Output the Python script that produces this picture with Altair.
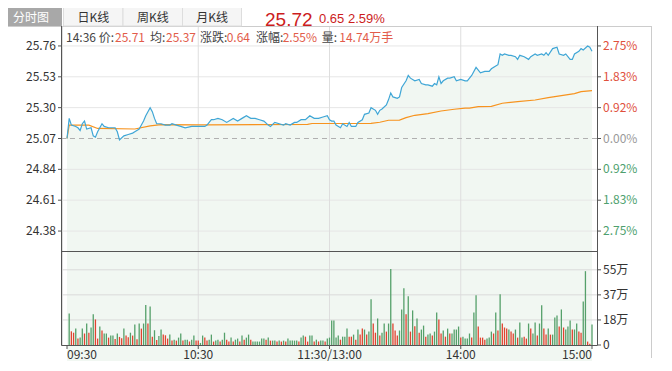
import altair as alt
import pandas as pd

# ---------------- data ----------------
prev_close = 25.07

price_minutes = [0, 1, 2, 4, 5, 6, 7, 8, 9, 11, 12, 13, 14, 16, 17, 19, 22, 23, 24, 26, 28, 30, 31, 33, 34, 35, 36, 37, 38, 39,
                 40, 41, 43, 45, 47, 48, 50, 52, 54, 57, 60, 63, 64, 66, 67, 69, 71, 73, 75, 76, 78, 80, 82, 84, 86, 88, 90, 92, 93, 95,
                 97, 99, 100, 102, 104, 105, 107, 109, 111, 113, 115, 117, 119, 120, 121, 122, 123, 125, 126, 128, 129, 130, 132, 133, 135, 136, 138, 139, 141, 142,
                 143, 144, 146, 147, 148, 149, 151, 152, 153, 155, 156, 157, 159, 161, 162, 164, 165, 167, 168, 169, 170, 171, 172, 174, 175, 177, 178, 180, 182, 183,
                 185, 187, 189, 191, 193, 194, 196, 197, 198, 199, 200, 202, 203, 205, 206, 207, 209, 211, 212, 214, 215, 217, 218, 219, 220, 222, 224, 225, 227, 228,
                 230, 231, 232, 234, 235, 236, 238, 239, 240]
price_values = [25.07, 25.22, 25.17, 25.16, 25.15, 25.13, 25.18, 25.20, 25.14, 25.15, 25.09, 25.08, 25.12, 25.18, 25.16, 25.15, 25.15, 25.12, 25.06, 25.09, 25.10, 25.11, 25.12, 25.14, 25.17, 25.20, 25.24, 25.27, 25.30, 25.27,
                25.22, 25.18, 25.18, 25.17, 25.17, 25.18, 25.17, 25.16, 25.15, 25.16, 25.16, 25.16, 25.17, 25.21, 25.21, 25.22, 25.21, 25.19, 25.21, 25.22, 25.20, 25.22, 25.24, 25.22, 25.22, 25.21, 25.20, 25.17, 25.16, 25.19,
                25.18, 25.17, 25.18, 25.17, 25.19, 25.19, 25.21, 25.21, 25.24, 25.22, 25.22, 25.23, 25.24, 25.21, 25.20, 25.20, 25.17, 25.15, 25.18, 25.16, 25.19, 25.16, 25.16, 25.19, 25.21, 25.25, 25.26, 25.30, 25.28, 25.25,
                25.28, 25.29, 25.32, 25.36, 25.41, 25.38, 25.37, 25.38, 25.45, 25.50, 25.54, 25.52, 25.50, 25.51, 25.48, 25.47, 25.47, 25.46, 25.48, 25.47, 25.53, 25.48, 25.50, 25.52, 25.52, 25.53, 25.50, 25.51, 25.50, 25.50,
                25.54, 25.60, 25.56, 25.57, 25.57, 25.59, 25.61, 25.62, 25.70, 25.69, 25.70, 25.69, 25.69, 25.68, 25.66, 25.69, 25.68, 25.66, 25.68, 25.70, 25.69, 25.70, 25.69, 25.71, 25.69, 25.74, 25.75, 25.70, 25.69, 25.70,
                25.66, 25.66, 25.70, 25.72, 25.74, 25.73, 25.76, 25.75, 25.72]

avg_minutes = [0, 1, 10, 14, 31, 38, 43, 60, 64, 110, 112, 139, 143, 147, 152, 155, 159, 165, 171, 177, 182, 184, 188, 194, 199, 206, 214, 220, 226, 232, 235, 240]
avg_values = [25.07, 25.17, 25.17, 25.145, 25.141, 25.164, 25.174, 25.172, 25.172, 25.175, 25.182, 25.183, 25.191, 25.206, 25.207, 25.226, 25.243, 25.256, 25.275, 25.288, 25.296, 25.297, 25.308, 25.309, 25.333, 25.345, 25.357, 25.375, 25.39, 25.405, 25.42, 25.427]

# volume per minute (万), minutes 1..240
volumes = [23, 10, 9, 12, 4.7, 5.4, 12, 8.4, 15.7, 9,
           12.8, 22.4, 18.7, 4.7, 13.5, 10.6, 8.4, 8.4, 5.4, 6.9,
           6.9, 4.4, 8.4, 5.9, 4.9, 12, 6.9, 5.6, 9, 6.9,
           15, 4.2, 15.7, 12, 15.7, 29.2, 15.7, 28.2, 6.1, 10.8,
           3.7, 6.6, 11.3, 7.6, 7.1, 4.7, 7.6, 3.2, 3.9, 3.2,
           5.4, 8.4, 3.2, 3.9, 3.9, 2.5, 3.9, 6.9, 3.2, 3.2,
           1.5, 6.9, 5.4, 3.2, 3.9, 7.6, 2.5, 3.2, 3.9, 2.5,
           3.9, 9, 3.9, 2.5, 5.4, 2.5, 3.9, 4.7, 2.5, 6.9,
           3.9, 5.4, 7.6, 3.9, 2.5, 2.5, 2.5, 2.5, 4.7, 4.7,
           3.9, 5.4, 3.2, 3.2, 3.2, 2.5, 3.2, 2.5, 3.2, 2.5,
           4.7, 3.2, 3.2, 3.2, 3.2, 2.5, 5.4, 6.9, 6.1, 2.5,
           6.9, 6.9, 2.5, 3.9, 2.5, 3.2, 3.2, 2.5, 4.7, 5.4,
           17.9, 17.9,
           5.4, 6.9, 3.9, 6.1, 6.1, 12, 6.1, 6.1, 7.6, 3.9,
           11.3, 7.6, 12, 11.3, 7.6, 9.8, 33.4, 15.7, 9, 19.4,
           6.9, 9, 15.7, 9.8, 15.7, 55.5, 15.7, 10.6, 6.9, 10.6,
           26, 41.5, 22.4, 35.6, 9.8, 25.3, 13.8, 19.4, 9, 11.3,
           14.2, 6.1, 7.6, 8.4, 6.9, 9.8, 23.8, 18.7, 8.4, 10.6,
           6.1, 12, 8.4, 8.4, 11.3, 11.3, 13.5, 5.4, 6.1, 4.7,
           4.7, 8.4, 5.4, 23.8, 36.3, 13.5, 5.4, 5.4, 3.9, 4.7,
           5.4, 9.8, 8.4, 23.8, 10.6, 37.1, 15.7, 12.8, 12, 11.3,
           9.8, 8.4, 11.3, 5.4, 16.5, 5.4, 6.1, 4.7, 15.7, 12,
           8.4, 16.5, 6.9, 15.7, 29, 12, 7.6, 12, 7.6, 7.6,
           20.1, 21.6, 13.5, 26, 12.8, 11.3, 13.5, 17.9, 11.3, 11.3,
           15.7, 9.8, 9, 31.9, 54, 2.5, 1, 15]
vol_color_rows = [
    "grrgrggrgr", "ggrrgrggrg", "grgrrgrrgr", "grgrggrgrg", "rggrrrgrgr", "ggrggrggrr",
    "ggrrggrggr", "ggrrgrggrg", "rggrgggggg", "rgrggrgrgr", "gggggrggrr", "ggrgrggrgg", "gg",
    "ggrgggrrgr", "grrgrggrrg", "rggrggrrrg", "ggrgrgrgrg", "grggrggrrg", "rgrggggrgg",
    "ggrggrrrrg", "ggrgrgrrrg", "rrgrggrrgr", "ggrggrrgrg", "ggrgrgggrg", "grrggrrg",
]
vol_colors = list("".join(vol_color_rows))

price_ticks = [25.76, 25.53, 25.30, 25.07, 24.84, 24.61, 24.38]
pct_labels = ["2.75%", "1.83%", "0.92%", "0.00%", "0.92%", "1.83%", "2.75%"]
pct_dirs = ["up", "up", "up", "flat", "down", "down", "down"]
vol_ticks = [0, 18.33, 36.67, 55]
vol_tick_labels = ["0", "18万", "37万", "55万"]
time_ticks = [0, 60, 120, 180, 240]
time_labels = ["09:30", "10:30", "11:30/13:00", "14:00", "15:00"]

tabs = ["分时图", "日K线", "周K线", "月K线"]
header_price = "25.72"
header_change = "0.65 2.59%"
info_parts = [("14:36 价:", "g"), ("25.71", "r"), ("均:", "g"), ("25.37", "r"), ("涨跌:", "g"), ("0.64", "r"),
              ("涨幅:", "g"), ("2.55%", "r"), ("量:", "g"), ("14.74万手", "r")]

# ---------------- layout ----------------
W, H, PH = 535, 319, 225
FONT = "Noto Sans CJK SC"
RED, GREEN, GRAY = "#e0503c", "#4e9f6e", "#9a9a9a"
AXIS = "#555555"

half = 0.8387
price_scale = alt.Scale(domain=[prev_close - half, prev_close + half], range=[PH, 0], nice=False, zero=False)
vol_scale = alt.Scale(domain=[0, 68.75], range=[H, PH], nice=False, zero=True)
x_scale = alt.Scale(domain=[0, 240], nice=False, zero=False)

xenc = alt.X("m:Q", scale=x_scale, axis=None)
ypr = alt.Y("p:Q", scale=price_scale, axis=None)
yvol = alt.Y("v:Q", scale=vol_scale, axis=None)


def one():
    return pd.DataFrame({"k": [0]})


def vline(x, y1, y2, color):
    return alt.Chart(one()).mark_rule(color=color, strokeWidth=1).encode(
        x=alt.value(x), y=alt.value(y1), y2=alt.value(y2))


def hline(y, x1, x2, color):
    return alt.Chart(one()).mark_rule(color=color, strokeWidth=1).encode(
        y=alt.value(y), x=alt.value(x1), x2=alt.value(x2))


def label(text, x, y, color, size=12, align="left", baseline="middle", font=FONT):
    return alt.Chart(one()).mark_text(text=text, align=align, baseline=baseline, color=color,
                                      fontSize=size, font=font).encode(x=alt.value(x), y=alt.value(y))


def box(x1, x2, y1, y2, fill, stroke=None):
    kw = dict(fill=fill)
    if stroke:
        kw.update(stroke=stroke, strokeWidth=1)
    return alt.Chart(one()).mark_rect(**kw).encode(
        x=alt.value(x1), x2=alt.value(x2), y=alt.value(y1), y2=alt.value(y2))


pdf = pd.DataFrame({"m": price_minutes, "p": price_values})
adf = pd.DataFrame({"m": avg_minutes, "p": avg_values})
vdf = pd.DataFrame({"m": list(range(1, len(volumes) + 1)), "v": volumes, "c": vol_colors})
tdf = pd.DataFrame({"p": price_ticks, "lab": [f"{t:.2f}" for t in price_ticks], "pct": pct_labels, "dir": pct_dirs})
vtdf = pd.DataFrame({"v": vol_ticks, "lab": vol_tick_labels})
timedf = pd.DataFrame({"m": time_ticks, "lab": time_labels})

layers = []

# price area
layers.append(alt.Chart(pdf).mark_area(color="#f1f7f2").encode(x=xenc, y=ypr, y2=alt.value(PH)))
# grids
layers.append(alt.Chart(tdf).transform_filter("datum.dir != 'flat'").mark_rule(color="#e6e6e6").encode(y=ypr))
layers.append(alt.Chart(pd.DataFrame({"m": time_ticks[1:4]})).mark_rule(color="#dedede").encode(x=xenc))
layers.append(alt.Chart(vtdf).transform_filter("datum.v > 0").mark_rule(color="#dadada").encode(y=yvol))
layers.append(alt.Chart(pd.DataFrame({"p": [prev_close]})).mark_rule(color="#b0b0b0", strokeDash=[5, 4]).encode(y=ypr))
# volume bars
layers.append(alt.Chart(vdf).mark_bar(size=1.3).encode(
    x=xenc, y=yvol,
    color=alt.Color("c:N", scale=alt.Scale(domain=["r", "g"], range=["#e0432f", "#55a06a"]), legend=None)))
# lines
layers.append(alt.Chart(adf).mark_line(color="#f7931e", strokeWidth=1.2).encode(x=xenc, y=ypr))
layers.append(alt.Chart(pdf).mark_line(color="#3fa6d6", strokeWidth=1.2).encode(x=xenc, y=ypr))

# frame and axis lines
layers.append(hline(0.5, -54, 589, "#cccccc"))
layers.append(vline(589.5, 0, 332, "#cccccc"))
layers.append(vline(-0.5, 0, H + 0.5, AXIS))
layers.append(vline(535.5, 0, H + 0.5, AXIS))
layers.append(hline(PH + 0.5, 0, W, AXIS))
layers.append(hline(H + 0.5, -0.5, W + 0.5, AXIS))

# axis ticks
layers.append(alt.Chart(tdf).mark_rule(color=AXIS).encode(y=ypr, x=alt.value(-4), x2=alt.value(-0.5)))
layers.append(alt.Chart(tdf).mark_rule(color=AXIS).encode(y=ypr, x=alt.value(536), x2=alt.value(539)))
layers.append(alt.Chart(vtdf).mark_rule(color=AXIS).encode(y=yvol, x=alt.value(536), x2=alt.value(539)))
layers.append(alt.Chart(timedf).mark_rule(color=AXIS).encode(x=xenc, y=alt.value(H), y2=alt.value(H + 4)))

# axis labels
layers.append(alt.Chart(tdf).mark_text(align="right", baseline="middle", fontSize=12, font=FONT, color="#333333")
              .encode(x=alt.value(-6), y=ypr, text="lab:N"))
for d, col in [("up", RED), ("flat", GRAY), ("down", GREEN)]:
    layers.append(alt.Chart(tdf).transform_filter(f"datum.dir == '{d}'")
                  .mark_text(align="left", baseline="middle", fontSize=12, font=FONT, color=col)
                  .encode(x=alt.value(541), y=ypr, text="pct:N"))
layers.append(alt.Chart(vtdf).mark_text(align="left", baseline="middle", fontSize=12, font=FONT, color="#333333")
              .encode(x=alt.value(541), y=yvol, text="lab:N"))
for cond, al in [("datum.m == 0", "left"), ("datum.m > 0 && datum.m < 240", "center"), ("datum.m == 240", "right")]:
    layers.append(alt.Chart(timedf).transform_filter(cond)
                  .mark_text(align=al, baseline="middle", fontSize=12, font=FONT, color="#333333")
                  .encode(x=xenc, y=alt.value(H + 10), text="lab:N"))

# tabs row (the page margin hides the top 8px, so texts sit a little lower)
layers.append(box(-62, 0, -20, 0, "#a8a8a8"))
tab_x = [(1.5, 61), (61, 120.5), (120.5, 179.5)]
for (a, b) in tab_x:
    layers.append(box(a, b, -19.5, 0, "#f5f5f5", "#dddddd"))
layers.append(label(tabs[0], -31, -8.5, "#ffffff", size=12, align="center"))
for t, (a, b) in zip(tabs[1:], tab_x):
    layers.append(label(t, (a + b) / 2, -8.5, "#333333", size=12, align="center"))
layers.append(label(header_price, 203, -6.5, "#cc1d1d", size=19, font="Liberation Sans"))
layers.append(label(header_change, 257, -7.5, "#cc1d1d", size=13, font="Liberation Sans"))

# info line
info_x = [4, 53, 88, 104, 138, 164.7, 194, 220.7, 259.7, 277.3]
for (txt, c), x in zip(info_parts, info_x):
    layers.append(label(txt, x, 12, "#e25c4a" if c == "r" else "#444444"))

chart = (
    alt.layer(*layers)
    .resolve_scale(y="independent")
    .properties(width=W, height=H, padding={"left": 54, "top": 18, "right": 60, "bottom": 16},
                autosize=alt.AutoSizeParams(type="none"))
    .configure_view(stroke=None)
    .configure(background="white")
)

chart.save("out.html", embed_options={"renderer": "svg", "actions": False})
